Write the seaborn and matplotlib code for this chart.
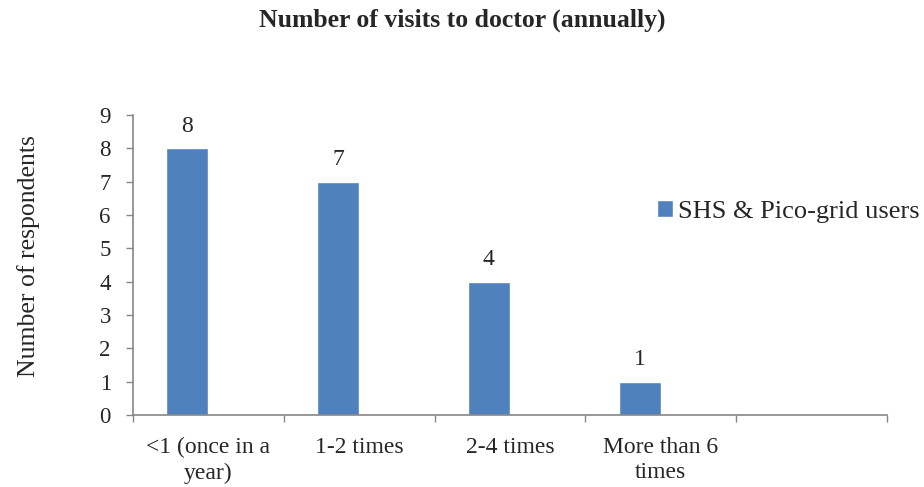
import matplotlib
matplotlib.use("Agg")
import matplotlib.pyplot as plt
import pandas as pd
import seaborn as sns

# data
categories = ["<1 (once in a\nyear)", "1-2 times", "2-4 times", "More than 6\ntimes", " "]
respondents = [8, 7, 4, 1]
series_name = "SHS & Pico-grid users"
y_ticks = list(range(0, 10))

sns.set_style("white")
plt.rcParams["font.family"] = ["Liberation Serif", "DejaVu Serif"]

df = pd.DataFrame({"visits": categories[:len(respondents)], "count": respondents,
                   "series": series_name})

fig = plt.figure(figsize=(9.24, 4.87), dpi=100)
ax = fig.add_axes([0.144, 0.148, 0.816, 0.616])

# Excel leaves room for an empty second series, so the bars sit left of centre
sns.barplot(data=df, x="visits", y="count", order=categories, hue="series",
            hue_order=[series_name, "_empty"], palette=["#4F81BD", "#4F81BD"],
            saturation=1, width=0.56, dodge=True, ax=ax)
if ax.get_legend() is not None:
    ax.get_legend().remove()

ax.bar_label(ax.containers[0], fmt="%d", padding=8, fontsize=17)

ax.set_xlim(-0.5, len(categories) - 0.5)
ax.set_ylim(0, 9)
ax.set_yticks(y_ticks)
ax.tick_params(axis="y", labelsize=16.5, length=5, width=1, color="#868686", direction="out", left=True, pad=11)
ax.tick_params(axis="x", which="major", length=0, labelsize=17, pad=16)
ax.set_xticks([i - 0.5 for i in range(len(categories) + 1)], minor=True)
ax.tick_params(axis="x", which="minor", length=5, width=1, color="#868686", direction="out", bottom=True)
for lbl in ax.get_xticklabels():
    lbl.set_linespacing(1.25)

for side in ["top", "right"]:
    ax.spines[side].set_visible(False)
for side in ["left", "bottom"]:
    ax.spines[side].set_color("#868686")
    ax.spines[side].set_linewidth(1.2)

ax.set_xlabel("")
ax.set_ylabel("Number of respondents", fontsize=18.5)
ax.yaxis.set_label_coords(-0.124, 0.53)

fig.text(0.5, 0.958, "Number of visits to doctor (annually)", ha="center", va="center",
         fontsize=18.5, fontweight="bold")

fig.legend(handles=[ax.containers[0].patches[0]], labels=[series_name],
           loc="center left", bbox_to_anchor=(0.711, 0.566), frameon=False, fontsize=19,
           handlelength=0.6, handleheight=0.6, handletextpad=0.2, borderaxespad=0,
           borderpad=0)

fig.savefig("out.png", dpi=100)
